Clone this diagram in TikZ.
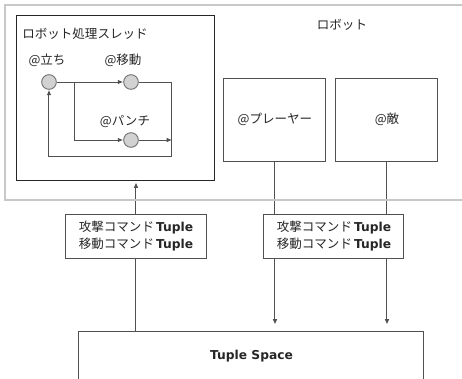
\documentclass[tikz,border=0pt]{standalone}
\usepackage{fontspec}
\setmainfont{DejaVu Sans}
\newfontfamily\jp{Noto Sans CJK JP}
\newfontfamily\lat{DejaVu Sans}
\newcommand\tpf{\lat\bfseries\fontsize{9.2}{11}\selectfont}
\usetikzlibrary{arrows.meta,backgrounds}
\definecolor{outerc}{HTML}{C8C8C8}
\definecolor{linec}{HTML}{505050}
\definecolor{circf}{HTML}{D2D2D2}
\definecolor{circd}{HTML}{7A7A7A}
\tikzset{
  jptext/.style={font=\jp\fontsize{9.4}{11}\selectfont, inner sep=0pt, text=black!85},
  box/.style={draw=linec, line width=0.75pt, fill=white, font=\jp\fontsize{9.4}{11}\selectfont, inner sep=0pt, text=black!85},
  state/.style={circle, draw=circd, fill=circf, line width=0.75pt, minimum size=11pt, inner sep=0pt},
  arr/.style={draw=linec, line width=0.75pt, -{Latex[length=4pt,width=3.5pt]}},
  ln/.style={draw=linec, line width=0.75pt}
}
\begin{document}
\begin{tikzpicture}[x=0.75pt,y=-0.75pt]
\useasboundingbox (0,0) rectangle (462,379);
% outer robot area
\draw[outerc, line width=1.5pt] (470,5) -- (5,5) -- (5,200) -- (470,200);
\node[jptext] (robot) at (342,25) {ロボット};
% thread box
\node[draw=black!85, line width=0.75pt, minimum width=148.5pt, minimum height=123.75pt, inner sep=0pt] (thread) at (116,97.5) {};
\node[jptext] (threadlbl) at (85,34) {ロボット処理スレッド};
\node[state] (c1) at (49,82) {};
\node[state] (c2) at (131,82) {};
\node[state] (c3) at (131,140) {};
\node[jptext] (l1) at (47,60) {@立ち};
\node[jptext] (l2) at (123,60) {@移動};
\node[jptext] (l3) at (125,122) {@パンチ};
\coordinate (br) at (75,82);
\coordinate (rt) at (172,82);
\coordinate (rb) at (172,156);
\draw[arr] (c1.east) -- (c2.west);
\draw[arr] (br) |- (c3.west);
\draw[arr] (c2.east) -- (rt) -- (rb) -| (c1.south);
\draw[arr] (c3.east) -- (c3.east -| rt);
% player and enemy
\node[box, minimum width=76.5pt, minimum height=62.25pt] (pl) at (275,119.5) {@プレーヤー};
\node[box, minimum width=76.5pt, minimum height=62.25pt] (en) at (387,119.5) {@敵};
% tuple boxes
\node[box, minimum width=105.75pt, minimum height=33pt, align=left] (tl) at (136,236)
  {攻撃コマンド{\tpf\,Tuple}\\[1.5pt]移動コマンド{\tpf\,Tuple}};
\node[box, minimum width=105pt, minimum height=33pt, align=left] (tr) at (334,236)
  {攻撃コマンド{\tpf\,Tuple}\\[1.5pt]移動コマンド{\tpf\,Tuple}};
% tuple space
\node[box, minimum width=258.75pt, minimum height=37.5pt] (ts) at (251.5,356) {{\tpf Tuple Space}};
\begin{scope}[on background layer]
\draw[arr] (ts.north -| tl.center) -- ([yshift=-1.5pt]thread.south -| tl.center);
\draw[arr, shorten >=4.5pt] (pl.south) -- (ts.north -| pl.south);
\draw[arr, shorten >=4.5pt] (en.south) -- (ts.north -| en.south);
\end{scope}
\end{tikzpicture}
\end{document}
